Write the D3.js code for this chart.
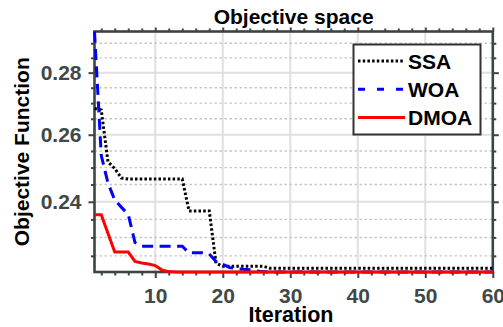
<!DOCTYPE html>
<html>
<head>
<meta charset="utf-8">
<script src="https://cdn.jsdelivr.net/npm/d3@7/dist/d3.min.js"></script>
<style>
  body { margin: 0; background: #fff; }
  text { font-family: "Liberation Sans", Arial, sans-serif; font-weight: bold; }
</style>
</head>
<body>
<svg id="chart" width="503" height="327"></svg>
<script>
// convergence curves, one value per iteration (1..60)
const iterations = d3.range(1, 61);
const ssa = [
  0.2683, 0.2678, 0.2517, 0.2497, 0.2469, 0.2466, 0.2466, 0.2466, 0.2466, 0.2466,
  0.2466, 0.2466, 0.2466, 0.2466, 0.2374, 0.2374, 0.2374, 0.2374, 0.2230, 0.2222,
  0.2222, 0.2222, 0.2222, 0.2222, 0.2222, 0.2222, 0.2217, 0.2217, 0.2217, 0.2217,
  0.2217, 0.2217, 0.2217, 0.2217, 0.2217, 0.2217, 0.2217, 0.2217, 0.2217, 0.2217,
  0.2217, 0.2217, 0.2217, 0.2217, 0.2217, 0.2217, 0.2217, 0.2217, 0.2217, 0.2217,
  0.2217, 0.2217, 0.2217, 0.2217, 0.2217, 0.2217, 0.2217, 0.2217, 0.2217, 0.2217
];
const woa = [
  0.2941, 0.2537, 0.2454, 0.2405, 0.2384, 0.2364, 0.2286, 0.2276, 0.2276, 0.2276,
  0.2276, 0.2276, 0.2276, 0.2276, 0.2258, 0.2258, 0.2258, 0.2255, 0.2235, 0.2227,
  0.2219, 0.2216, 0.2214, 0.2213, 0.2210, 0.2208, 0.2207, 0.2207, 0.2207, 0.2207,
  0.2207, 0.2207, 0.2207, 0.2207, 0.2207, 0.2207, 0.2207, 0.2207, 0.2207, 0.2207,
  0.2207, 0.2207, 0.2207, 0.2207, 0.2207, 0.2207, 0.2207, 0.2207, 0.2207, 0.2207,
  0.2207, 0.2207, 0.2207, 0.2207, 0.2207, 0.2207, 0.2207, 0.2207, 0.2207, 0.2207
];
const dmoa = [
  0.2363, 0.2363, 0.2311, 0.2260, 0.2260, 0.2260, 0.2235, 0.2231, 0.2228, 0.2224,
  0.2212, 0.2208, 0.2207, 0.2207, 0.2207, 0.2207, 0.2207, 0.2207, 0.2207, 0.2207,
  0.2207, 0.2207, 0.2207, 0.2207, 0.2207, 0.2207, 0.2207, 0.2207, 0.2207, 0.2207,
  0.2207, 0.2207, 0.2207, 0.2207, 0.2207, 0.2207, 0.2207, 0.2207, 0.2207, 0.2207,
  0.2207, 0.2207, 0.2207, 0.2207, 0.2207, 0.2207, 0.2207, 0.2207, 0.2207, 0.2207,
  0.2207, 0.2207, 0.2207, 0.2207, 0.2207, 0.2207, 0.2207, 0.2207, 0.2207, 0.2207
];
const seriesNames = ['SSA', 'WOA', 'DMOA'];
const xTicks = [10, 20, 30, 40, 50, 60];
const yTicks = [0.24, 0.26, 0.28];
const yMinorTicks = [0.225, 0.23, 0.235, 0.245, 0.25, 0.255, 0.265, 0.27, 0.275, 0.285, 0.29];

const series = [
  {name: seriesNames[0], values: ssa, color: '#000', dash: '2.5,2.2', legendDash: '2.5,2.2'},
  {name: seriesNames[1], values: woa, color: '#0000ff', dash: '11,6.5', legendDash: '7,12'},
  {name: seriesNames[2], values: dmoa, color: '#ff0000', dash: null, legendDash: null}
];

const svg = d3.select('#chart');
const margin = {top: 31.5, right: 10.2, bottom: 55, left: 94.5};
const W = 503, H = 327;
const axisColor = '#3d4444';

const x = d3.scaleLinear().domain([1, 60]).range([margin.left, W - margin.right]);
const allValues = ssa.concat(woa, dmoa);
const y = d3.scaleLog().domain(d3.extent(allValues)).range([H - margin.bottom, margin.top]);
const xMinor = d3.range(2, 60, 2).filter(v => v % 10 !== 0);

const plotBottom = H - margin.bottom, plotTop = margin.top;
const plotLeft = margin.left, plotRight = W - margin.right;

// grid
const grid = svg.append('g');
grid.selectAll('.vgrid').data(xTicks.filter(d => d < 60)).enter().append('line')
  .attr('x1', d => x(d)).attr('x2', d => x(d))
  .attr('y1', plotTop).attr('y2', plotBottom)
  .attr('stroke', '#e0e0e0').attr('stroke-width', 2);
grid.selectAll('.hminor').data(yMinorTicks).enter().append('line')
  .attr('x1', plotLeft).attr('x2', plotRight)
  .attr('y1', d => y(d)).attr('y2', d => y(d))
  .attr('stroke', '#c6c6c6').attr('stroke-width', 1.4).attr('stroke-dasharray', '2.5,2.5');
grid.selectAll('.hmajor').data(yTicks).enter().append('line')
  .attr('x1', plotLeft).attr('x2', plotRight)
  .attr('y1', d => y(d)).attr('y2', d => y(d))
  .attr('stroke', '#e0e0e0').attr('stroke-width', 2);

// axes: major + minor ticks on all four sides
function styleAxis(g, labels) {
  g.select('.domain').remove();
  g.selectAll('.tick line').attr('stroke', axisColor).attr('stroke-width', 2);
  g.selectAll('.tick text').attr('fill', labels ? '#404848' : 'none').style('font-size', '21px');
}

svg.append('g').attr('transform', `translate(0,${plotBottom})`)
  .call(d3.axisBottom(x).tickValues(xTicks).tickSize(6).tickPadding(10).tickFormat(d3.format('d')))
  .call(g => styleAxis(g, true));
svg.append('g').attr('transform', `translate(0,${plotBottom})`)
  .call(d3.axisBottom(x).tickValues(xMinor).tickSize(3.5).tickFormat(''))
  .call(g => styleAxis(g, false));
svg.append('g').attr('transform', `translate(0,${plotTop})`)
  .call(d3.axisTop(x).tickValues(xTicks).tickSize(4).tickFormat(''))
  .call(g => styleAxis(g, false));
svg.append('g').attr('transform', `translate(0,${plotTop})`)
  .call(d3.axisTop(x).tickValues(xMinor).tickSize(3).tickFormat(''))
  .call(g => styleAxis(g, false));

svg.append('g').attr('transform', `translate(${plotLeft},0)`)
  .call(d3.axisLeft(y).tickValues(yTicks).tickSize(6).tickPadding(7).tickFormat(d3.format('.2f')))
  .call(g => styleAxis(g, true));
svg.append('g').attr('transform', `translate(${plotLeft},0)`)
  .call(d3.axisLeft(y).tickValues(yMinorTicks).tickSize(3.5).tickFormat(''))
  .call(g => styleAxis(g, false));
svg.append('g').attr('transform', `translate(${plotRight},0)`)
  .call(d3.axisRight(y).tickValues(yTicks).tickSize(6).tickFormat(''))
  .call(g => styleAxis(g, false));
svg.append('g').attr('transform', `translate(${plotRight},0)`)
  .call(d3.axisRight(y).tickValues(yMinorTicks).tickSize(3.5).tickFormat(''))
  .call(g => styleAxis(g, false));

// box
svg.append('rect')
  .attr('x', plotLeft).attr('y', plotTop)
  .attr('width', plotRight - plotLeft).attr('height', plotBottom - plotTop)
  .attr('fill', 'none').attr('stroke', axisColor).attr('stroke-width', 2.6);

// curves
const line = d3.line().x((d, i) => x(iterations[i])).y(d => y(d));
svg.selectAll('.curve').data(series).enter().append('path')
  .attr('class', 'curve')
  .attr('d', d => line(d.values))
  .attr('fill', 'none')
  .attr('stroke', d => d.color)
  .attr('stroke-width', 3)
  .attr('stroke-dasharray', d => d.dash);

// labels
svg.append('text').attr('x', (plotLeft + plotRight) / 2).attr('y', 24)
  .attr('text-anchor', 'middle').style('font-size', '21px').attr('fill', '#000')
  .text('Objective space');
svg.append('text').attr('x', 291).attr('y', 322)
  .attr('text-anchor', 'middle').style('font-size', '21.5px').attr('fill', '#000')
  .text('Iteration');
svg.append('text').attr('transform', `translate(29,${(plotTop + plotBottom) / 2}) rotate(-90)`)
  .attr('text-anchor', 'middle').style('font-size', '21px').attr('fill', '#000')
  .text('Objective Function');

// legend
const legend = svg.append('g');
legend.append('rect').attr('x', 353.5).attr('y', 44.5).attr('width', 127).attr('height', 90)
  .attr('fill', '#fff').attr('stroke', '#333').attr('stroke-width', 2);
const item = legend.selectAll('.item').data(series).enter().append('g')
  .attr('transform', (d, i) => `translate(0,${61 + i * 28.3})`);
item.append('line').attr('x1', 358).attr('x2', 405).attr('y1', 0).attr('y2', 0)
  .attr('stroke', d => d.color).attr('stroke-width', 3)
  .attr('stroke-dasharray', d => d.legendDash);
item.append('text').attr('x', 408).attr('y', 7.5).style('font-size', '21px').attr('fill', '#000')
  .text(d => d.name);
</script>
</body>
</html>
